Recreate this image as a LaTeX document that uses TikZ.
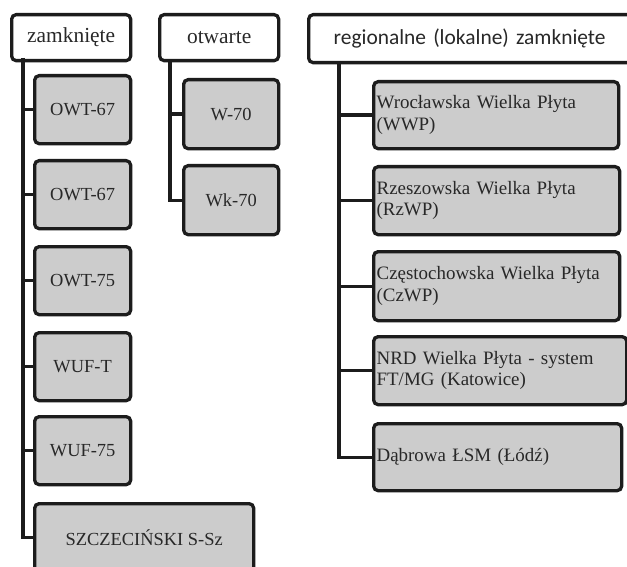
\documentclass[tikz,border=0pt]{standalone}
\usepackage{fontspec}
\setmainfont{Liberation Serif}
\newfontfamily\calib{Carlito}
\definecolor{boxfill}{RGB}{204,204,204}
\definecolor{ink}{RGB}{28,28,28}
\definecolor{txt}{RGB}{40,40,40}
\begin{document}
\begin{tikzpicture}[x=1bp,y=-1bp,
  base/.style={draw=ink, line width=3.3bp, rounded corners=4.5bp, inner sep=0bp, anchor=north west, text=txt},
  head/.style={base, fill=white, minimum height=46bp, font=\fontsize{21.5}{24}\selectfont},
  leaf/.style={base, fill=boxfill, minimum height=68bp, font=\fontsize{18.5}{21}\selectfont},
  longleaf/.style={base, fill=boxfill, minimum height=68bp, align=left, inner xsep=3bp, text width=#1, font=\fontsize{19}{21.5}\selectfont},
  conn/.style={draw=ink, line width=3.3bp}]
\useasboundingbox (0,0) rectangle (627,567);
\fill[white] (0,0) rectangle (627,567);

% headers
\node[head, minimum width=119bp] (z) at (10,13) {zamknięte};
\node[head, minimum width=119bp] (o) at (158,13) {otwarte};
\node[head, minimum height=48bp, align=left, inner xsep=25bp, text width=320bp, font=\calib\fontsize{21.5}{24}\selectfont] (r) at (307,13) {regionalne (lokalne) zamknięte};

% left column
\node[leaf, minimum width=96bp] (z1) at (33,74) {OWT-67};
\node[leaf, minimum width=96bp] (z2) at (33,159) {OWT-67};
\node[leaf, minimum width=96bp] (z3) at (33,245) {OWT-75};
\node[leaf, minimum width=96bp] (z4) at (33,331) {WUF-T};
\node[leaf, minimum width=96bp] (z5) at (33,415) {WUF-75};
\node[leaf, minimum width=219bp] (z6) at (33,502) {SZCZECIŃSKI S-Sz};

% middle column
\node[leaf, minimum width=95bp, minimum height=69bp] (o1) at (182,78) {W-70};
\node[leaf, minimum width=95bp, minimum height=69bp] (o2) at (182,164) {Wk-70};

% right column
\node[longleaf=239bp, minimum height=67bp] (r1) at (372,80) {Wrocławska Wielka Płyta\\(WWP)};
\node[longleaf=240bp] (r2) at (372,165) {Rzeszowska Wielka Płyta\\(RzWP)};
\node[longleaf=240bp, minimum height=69bp] (r3) at (372,250) {Częstochowska Wielka Płyta\\(CzWP)};
\node[longleaf=247bp] (r4) at (372,335) {NRD Wielka Płyta - system\\FT/MG (Katowice)};
\node[longleaf=242bp, minimum height=67bp] (r5) at (372,422) {Dąbrowa ŁSM (Łódź)};

% trunks
\coordinate (zt) at (23,58);
\coordinate (ot) at (170,60);
\coordinate (rt) at (339,61);
\draw[conn] (zt) |- (z6.west);
\foreach \i in {1,...,5} \draw[conn] (z\i.west) -- (z\i.west -| zt);
\draw[conn] (ot) |- (o2.west);
\draw[conn] (o1.west) -- (o1.west -| ot);
\draw[conn] (rt) |- (r5.west);
\foreach \i in {1,...,4} \draw[conn] (r\i.west) -- (r\i.west -| rt);
\end{tikzpicture}
\end{document}
